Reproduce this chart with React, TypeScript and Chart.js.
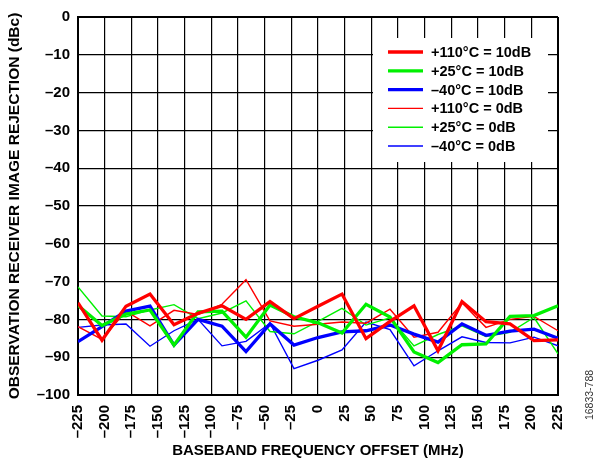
import React, { useEffect, useRef } from 'react';
import { Chart, registerables } from 'chart.js';

Chart.register(...registerables);

const FONT = '"Liberation Sans", Arial, Helvetica, sans-serif';

// Frequency offsets (MHz) at which the curves were measured
const xValues = [-225, -202.5, -180, -157.5, -135, -112.5, -90, -67.5, -45, -22.5, 0, 22.5, 45, 67.5, 90, 112.5, 135, 157.5, 180, 202.5, 225];

// Axis ticks
const xTicks = [-225, -200, -175, -150, -125, -100, -75, -50, -25, 0, 25, 50, 75, 100, 125, 150, 175, 200, 225];
const xTickLabels = ['–225', '–200', '–175', '–150', '–125', '–100', '–75', '–50', '–25', '0', '25', '50', '75', '100', '125', '150', '175', '200', '225'];
const yTicks = [0, -10, -20, -30, -40, -50, -60, -70, -80, -90, -100];
const yTickLabels = ['0', '–10', '–20', '–30', '–40', '–50', '–60', '–70', '–80', '–90', '–100'];

// Series (dBc)
const red10 = [-75.6, -85.5, -76.5, -73.3, -81.4, -78.4, -76.4, -80.0, -75.3, -79.8, -76.5, -73.3, -85.1, -80.5, -76.4, -88.3, -75.3, -80.6, -81.2, -85.6, -85.4];
const green10 = [-76.3, -81.6, -78.6, -77.5, -86.8, -78.0, -77.8, -84.7, -76.2, -79.3, -80.9, -83.6, -76.0, -79.4, -88.6, -91.4, -86.7, -86.5, -79.2, -79.0, -76.4];
const blue10 = [-85.9, -81.9, -77.8, -76.5, -86.8, -80.0, -81.8, -88.5, -81.2, -86.8, -84.8, -83.3, -83.0, -81.5, -83.9, -86.0, -81.2, -84.2, -83.1, -82.6, -85.0];
const red0 = [-81.9, -85.3, -77.8, -81.7, -77.6, -78.7, -76.0, -69.5, -80.4, -81.8, -81.3, -80.7, -81.0, -77.3, -84.7, -83.4, -75.6, -82.1, -80.0, -79.2, -83.0];
const green0 = [-71.4, -79.1, -79.3, -77.5, -76.1, -79.8, -78.3, -75.1, -83.2, -83.8, -80.5, -77.1, -81.5, -79.6, -87.0, -84.0, -81.7, -84.5, -83.4, -79.5, -89.1];
const blue0 = [-82.1, -81.5, -81.2, -87.1, -83.0, -80.0, -87.0, -85.8, -81.0, -93.0, -90.8, -88.1, -80.7, -82.7, -92.3, -88.3, -84.6, -86.1, -86.2, -84.7, -87.0];

const seriesLabels = ['+110°C = 10dB', '+25°C = 10dB', '–40°C = 10dB', '+110°C = 0dB', '+25°C = 0dB', '–40°C = 0dB'];
const seriesValues = [red10, green10, blue10, red0, green0, blue0];
const seriesColors = ['#ff0000', '#00f000', '#0000ff', '#ff0000', '#00f000', '#0000ff'];
const seriesWidths = [3.3, 3.3, 3.3, 1.4, 1.4, 1.4];

const boxLegend = {
  id: 'boxLegend',
  afterDatasetsDraw(chart: any) {
    const { ctx, chartArea } = chart;
    const left = chartArea.left + 295;
    const top = chartArea.top + 21;
    ctx.save();
    ctx.fillStyle = '#ffffff';
    ctx.fillRect(left, top, 175, 124);
    ctx.font = `bold 14.5px ${FONT}`;
    ctx.textBaseline = 'middle';
    ctx.textAlign = 'left';
    chart.data.datasets.forEach((ds: any, i: number) => {
      const y = top + 14 + i * 18.8;
      ctx.strokeStyle = ds.borderColor;
      ctx.lineWidth = ds.borderWidth;
      ctx.beginPath();
      ctx.moveTo(left + 15, y);
      ctx.lineTo(left + 50, y);
      ctx.stroke();
      ctx.fillStyle = '#000';
      ctx.fillText(ds.label, left + 58, y + 1);
    });
    ctx.restore();
  },
};

const figureId = {
  id: 'figureId',
  afterDraw(chart: any) {
    const { ctx } = chart;
    ctx.save();
    ctx.translate(590, 395);
    ctx.rotate(-Math.PI / 2);
    ctx.font = `10.5px ${FONT}`;
    ctx.fillStyle = '#333';
    ctx.textAlign = 'center';
    ctx.textBaseline = 'middle';
    ctx.fillText('16833-788', 0, 0);
    ctx.restore();
  },
};

export default function App() {
  const ref = useRef<HTMLCanvasElement>(null);
  useEffect(() => {
    const chart = new Chart(ref.current as HTMLCanvasElement, {
      type: 'line',
      data: {
        datasets: seriesValues.map((vals, i) => ({
          label: seriesLabels[i],
          data: xValues.map((x, j) => ({ x, y: vals[j] })),
          borderColor: seriesColors[i],
          backgroundColor: seriesColors[i],
          borderWidth: seriesWidths[i],
          pointRadius: 0,
          tension: 0,
          fill: false,
        })),
      },
      options: {
        responsive: false,
        animation: false,
        layout: { padding: { top: 16, right: 41, left: 0, bottom: 0 } },
        plugins: {
          legend: { display: false },
          tooltip: { enabled: false },
        },
        scales: {
          x: {
            type: 'linear',
            min: -225,
            max: 225,
            afterBuildTicks: (s: any) => {
              s.ticks = xTicks.map((v) => ({ value: v }));
            },
            afterFit: (s: any) => {
              s.height = 65;
            },
            ticks: {
              autoSkip: false,
              minRotation: 90,
              maxRotation: 90,
              padding: 10,
              color: '#000',
              font: { family: FONT, size: 15, weight: 'bold' },
              callback: (_v: any, i: number) => xTickLabels[i],
            },
            grid: {
              color: '#000',
              lineWidth: (c: any) => (c.tick && Math.abs(c.tick.value) === 225 ? 2 : 1.2),
              drawTicks: false,
            },
            border: { display: true, color: '#000', width: 2 },
            title: {
              display: true,
              text: 'BASEBAND FREQUENCY OFFSET (MHz)',
              color: '#000',
              font: { family: FONT, size: 15, weight: 'bold' },
              padding: { top: 0, bottom: 0 },
            },
          },
          y: {
            type: 'linear',
            min: -100,
            max: 0,
            afterBuildTicks: (s: any) => {
              s.ticks = yTicks.slice().reverse().map((v) => ({ value: v }));
            },
            afterFit: (s: any) => {
              s.width = 78;
            },
            ticks: {
              padding: 8,
              color: '#000',
              font: { family: FONT, size: 15, weight: 'bold' },
              callback: (v: any) => yTickLabels[yTicks.indexOf(v)],
            },
            grid: {
              color: '#000',
              lineWidth: (c: any) => (c.tick && (c.tick.value === 0 || c.tick.value === -100) ? 2 : 1.2),
              drawTicks: false,
            },
            border: { display: true, color: '#000', width: 2 },
            title: {
              display: true,
              text: 'OBSERVATION RECEIVER IMAGE REJECTION (dBc)',
              color: '#000',
              font: { family: FONT, size: 15.5, weight: 'bold' },
              padding: { top: 5.5, bottom: 0 },
            },
          },
        },
      },
      plugins: [boxLegend, figureId],
    });
    return () => chart.destroy();
  }, []);
  return (
    <canvas
      ref={ref}
      width={599}
      height={460}
      style={{ position: 'absolute', left: 0, top: 0, width: 599, height: 460, background: '#fff' }}
    />
  );
}
